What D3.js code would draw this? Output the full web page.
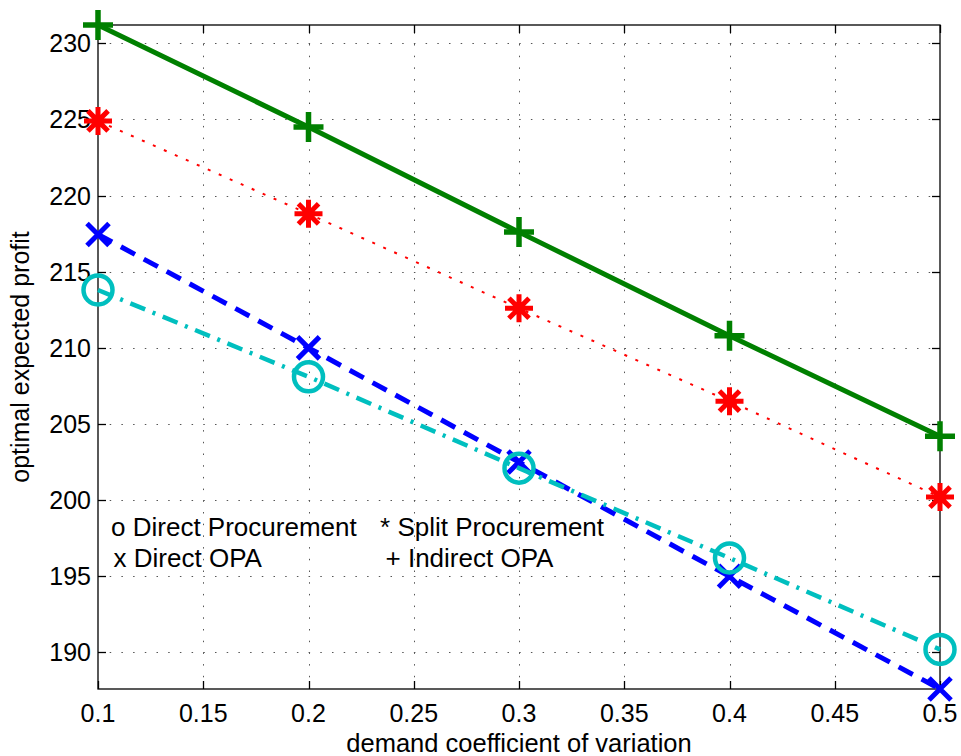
<!DOCTYPE html>
<html>
<head>
<meta charset="utf-8">
<script src="https://cdn.jsdelivr.net/npm/d3@7"></script>
<style>
  body { margin: 0; background: #fff; }
  text { font-family: "Liberation Sans", Arial, sans-serif; fill: #000; }
</style>
</head>
<body>
<div id="chart"></div>
<script>
// demand coefficient of variation
const cv = [0.1, 0.2, 0.3, 0.4, 0.5];

// optimal expected profit per strategy
const directProcurement = [213.8, 208.1, 202.1, 196.2, 190.2];
const splitProcurement = [224.9, 218.8, 212.6, 206.5, 200.2];
const directOPA = [217.45, 210.0, 202.5, 195.0, 187.6];
const indirectOPA = [231.2, 224.5, 217.6, 210.8, 204.2];

const xTicks = [0.1, 0.15, 0.2, 0.25, 0.3, 0.35, 0.4, 0.45, 0.5];
const yTicks = [190, 195, 200, 205, 210, 215, 220, 225, 230];

// text annotations used as a legend (data coordinates)
const notes = [
  { x: 0.1062, y: 197.65, text: 'o Direct Procurement' },
  { x: 0.2340, y: 197.65, text: '* Split Procurement' },
  { x: 0.1074, y: 195.6, text: 'x Direct OPA' },
  { x: 0.2366, y: 195.6, text: '+ Indirect OPA' },
];

const series = [
  { values: directOPA, color: '#0000ff', dash: '16,10', width: 5, marker: 'x' },
  { values: directProcurement, color: '#00bfbf', dash: '16,8,3,8', width: 4.5, marker: 'o' },
  { values: splitProcurement, color: '#ff0000', dash: '3,9', width: 2, marker: '*' },
  { values: indirectOPA, color: '#008000', dash: null, width: 5, marker: '+' },
];

const width = 961;
const height = 756;
const margin = { top: 25, right: 21, bottom: 67, left: 98 };

const svg = d3.select('#chart')
  .append('svg')
  .attr('width', width)
  .attr('height', height);

const allY = series.flatMap((s) => s.values);
const x = d3.scaleLinear()
  .domain(d3.extent(cv))
  .range([margin.left, width - margin.right]);
const y = d3.scaleLinear()
  .domain(d3.extent(allY))
  .range([height - margin.bottom, margin.top]);

const [x0, x1] = x.range();
const [y0, y1] = y.range();

// grid
const grid = svg.append('g').attr('class', 'grid')
  .attr('stroke', '#555')
  .attr('stroke-width', 1)
  .attr('stroke-dasharray', '1.5,10.2');

grid.selectAll('line.v')
  .data(xTicks.slice(1, -1))
  .join('line')
  .attr('class', 'v')
  .attr('x1', (d) => Math.round(x(d)) + 0.5)
  .attr('x2', (d) => Math.round(x(d)) + 0.5)
  .attr('y1', y0)
  .attr('y2', y1);

grid.selectAll('line.h')
  .data(yTicks)
  .join('line')
  .attr('class', 'h')
  .attr('x1', x0)
  .attr('x2', x1)
  .attr('y1', (d) => Math.round(y(d)) + 0.5)
  .attr('y2', (d) => Math.round(y(d)) + 0.5);

// axes box + ticks
const tickLen = 8;
const axes = svg.append('g').attr('stroke', '#000').attr('stroke-width', 1.3);
axes.append('rect')
  .attr('x', x0).attr('y', y1)
  .attr('width', x1 - x0).attr('height', y0 - y1)
  .attr('fill', 'none');

xTicks.forEach((t) => {
  const px = Math.round(x(t)) + 0.5;
  axes.append('line').attr('x1', px).attr('x2', px).attr('y1', y0).attr('y2', y0 - tickLen);
  axes.append('line').attr('x1', px).attr('x2', px).attr('y1', y1).attr('y2', y1 + tickLen);
});
yTicks.forEach((t) => {
  const py = Math.round(y(t)) + 0.5;
  axes.append('line').attr('x1', x0).attr('x2', x0 + tickLen).attr('y1', py).attr('y2', py);
  axes.append('line').attr('x1', x1).attr('x2', x1 - tickLen).attr('y1', py).attr('y2', py);
});

// tick labels
const fmt = (d) => String(d);
svg.append('g').selectAll('text')
  .data(xTicks)
  .join('text')
  .attr('x', (d) => x(d))
  .attr('y', y0 + 33)
  .attr('text-anchor', 'middle')
  .style('font-size', '25px')
  .text(fmt);

svg.append('g').selectAll('text')
  .data(yTicks)
  .join('text')
  .attr('x', x0 - 7)
  .attr('y', (d) => y(d))
  .attr('dy', '0.36em')
  .attr('text-anchor', 'end')
  .style('font-size', '25px')
  .text(fmt);

// axis titles
svg.append('text')
  .attr('x', (x0 + x1) / 2)
  .attr('y', 752)
  .attr('text-anchor', 'middle')
  .style('font-size', '25.5px')
  .text('demand coefficient of variation');

svg.append('text')
  .attr('transform', `translate(29,${(y0 + y1) / 2}) rotate(-90)`)
  .attr('text-anchor', 'middle')
  .style('font-size', '25px')
  .text('optimal expected profit');

// lines
const line = d3.line()
  .x((d, i) => x(cv[i]))
  .y((d) => y(d));

const plot = svg.append('g').attr('class', 'series');

series.forEach((s) => {
  plot.append('path')
    .datum(s.values)
    .attr('d', line)
    .attr('fill', 'none')
    .attr('stroke', s.color)
    .attr('stroke-width', s.width)
    .attr('stroke-dasharray', s.dash);

  const g = plot.append('g')
    .attr('stroke', s.color)
    .attr('fill', 'none');

  s.values.forEach((v, i) => {
    const cx = x(cv[i]);
    const cy = y(v);
    if (s.marker === 'o') {
      g.append('circle').attr('cx', cx).attr('cy', cy).attr('r', 14.5)
        .attr('stroke-width', 4.5);
    } else if (s.marker === 'x') {
      const r = 11;
      g.append('path')
        .attr('d', `M${cx - r},${cy - r}L${cx + r},${cy + r}M${cx - r},${cy + r}L${cx + r},${cy - r}`)
        .attr('stroke-width', 5);
    } else if (s.marker === '+') {
      const r = 15;
      g.append('path')
        .attr('d', `M${cx - r},${cy}L${cx + r},${cy}M${cx},${cy - r}L${cx},${cy + r}`)
        .attr('stroke-width', 5.5);
    } else if (s.marker === '*') {
      const r = 14;
      const rd = r * 0.72;
      g.append('path')
        .attr('d', `M${cx - r},${cy}L${cx + r},${cy}M${cx},${cy - r}L${cx},${cy + r}` +
          `M${cx - rd},${cy - rd}L${cx + rd},${cy + rd}M${cx - rd},${cy + rd}L${cx + rd},${cy - rd}`)
        .attr('stroke-width', 5);
    }
  });
});

// annotations
svg.append('g').selectAll('text')
  .data(notes)
  .join('text')
  .attr('x', (d) => x(d.x))
  .attr('y', (d) => y(d.y))
  .style('font-size', '26px')
  .text((d) => d.text);
</script>
</body>
</html>
